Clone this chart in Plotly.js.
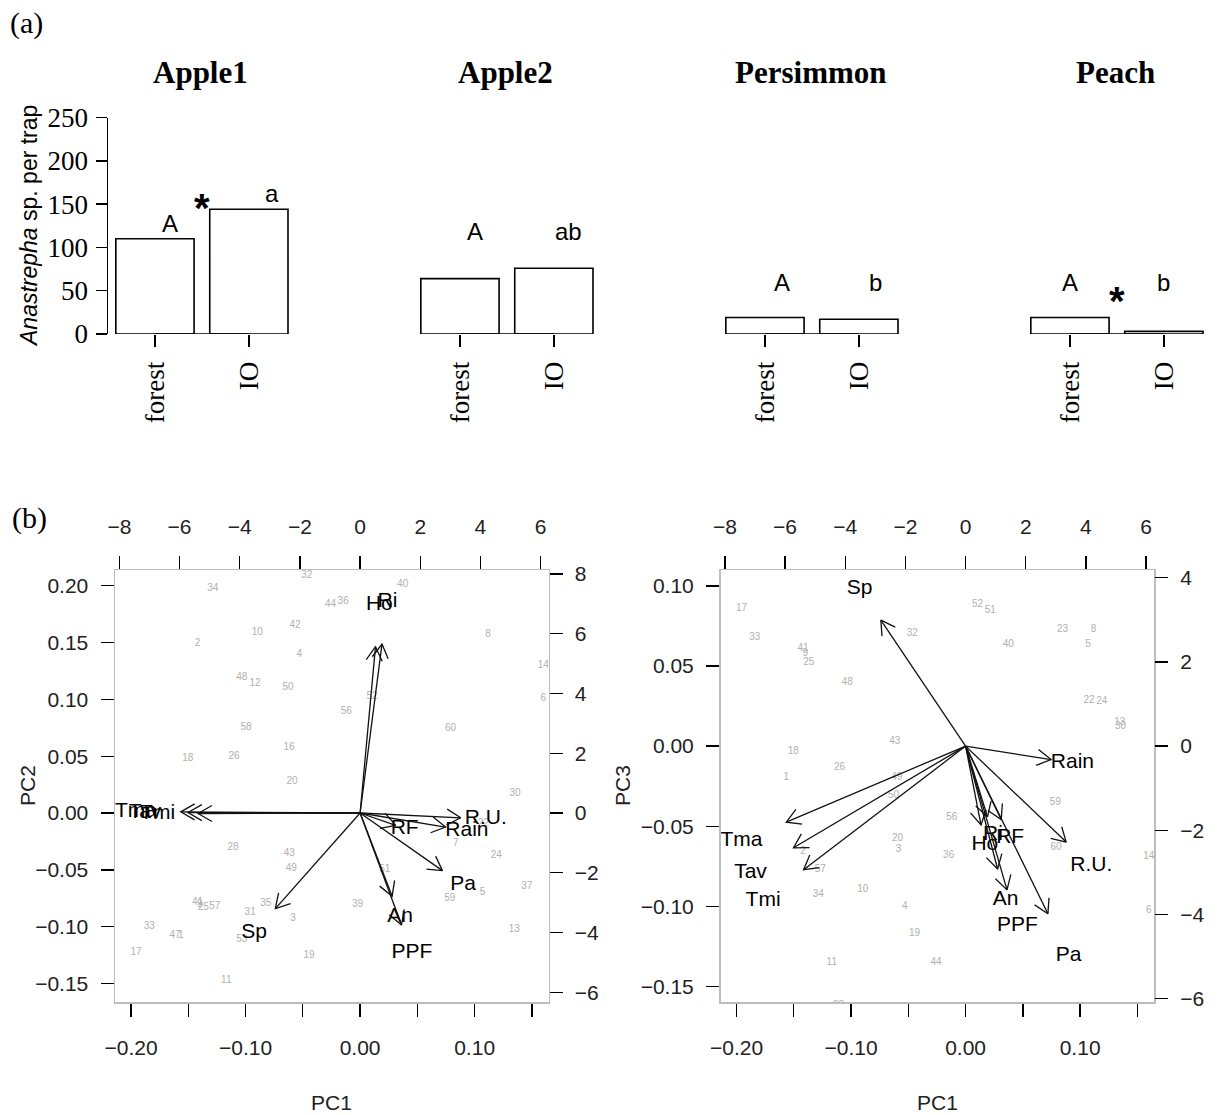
<!DOCTYPE html>
<html><head><meta charset="utf-8">
<script src="https://cdn.plot.ly/plotly-3.0.1.min.js"></script>
<style>html,body{margin:0;padding:0;background:#fff}#chart{width:1219px;height:1115px}</style>
</head><body><div id="chart"></div>
<script>
// ---------- (a) bar panels ----------
const crops = ["Apple1", "Apple2", "Persimmon", "Peach"];
const habitats = ["forest", "IO"];
const forestCounts = [110, 64, 19, 19];
const ioCounts = [144, 76, 17, 3];
const forestLetters = ["A", "A", "A", "A"];
const ioLetters = ["a", "ab", "b", "b"];
const significant = [true, false, false, true];
const countTicks = [0, 50, 100, 150, 200, 250];

// ---------- (b) PCA biplots ----------
const siteLabels = ["1","2","3","4","5","6","7","8","9","10","11","12","13","14","16","17","18","19","20","22","23","24","25","26","28","30","31","32","33","34","35","36","37","39","40","41","42","43","44","47","48","49","50","51","52","53","56","57","58","59","60"];
const sitePC1 = [-0.1566,-0.142,-0.0586,-0.053,0.107,0.160,0.0836,0.1118,-0.140,-0.0898,-0.1168,-0.0917,0.1347,0.1599,-0.062,-0.1956,-0.1505,-0.0445,-0.0594,0.1078,0.0846,0.119,-0.137,-0.110,-0.111,0.1352,-0.096,-0.0466,-0.184,-0.1287,-0.0824,-0.0148,0.1456,-0.0023,0.0373,-0.142,-0.0568,-0.0618,-0.0258,-0.1616,-0.1033,-0.060,-0.063,0.0215,0.0104,-0.1033,-0.012,-0.1268,-0.0996,0.0784,0.079];
const sitePC2 = [-0.108,0.149,-0.0926,0.1396,-0.070,0.101,-0.0267,0.1566,-0.0806,0.159,-0.1475,0.114,-0.102,0.1296,0.0574,-0.1225,0.048,-0.1255,0.0275,-0.009,null,-0.037,-0.083,0.050,-0.0302,0.0173,-0.0877,0.209,-0.100,0.197,-0.080,0.186,-0.0642,-0.0803,0.201,-0.0789,0.165,-0.036,0.183,-0.1073,0.119,-0.0487,0.1106,-0.0495,0.1023,-0.111,0.0891,-0.0824,0.0756,-0.075,0.0739];
const sitePC3 = [-0.0194,-0.066,-0.0648,-0.1004,0.0633,-0.1029,null,0.0729,0.0578,-0.0898,-0.1349,null,0.0146,-0.069,null,0.0856,-0.0032,-0.1169,-0.0579,0.0286,0.0729,0.0276,0.0522,-0.0132,-0.1616,0.012,null,0.0705,0.0678,-0.0923,null,-0.0685,null,null,0.0633,0.0607,null,0.0026,-0.1349,null,0.040,-0.0194,-0.0309,0.0847,0.0884,null,-0.0444,-0.0768,null,-0.0353,-0.0633];

const varLabels = ["Tma","Tav","Tmi","Rain","R.U.","Pa","PPF","An","Ho","Ri","RF","Sp"];
const loadPC1 = [-7.45,-7.15,-6.73,3.55,4.18,3.42,1.72,1.33,0.64,0.91,1.48,-3.52];
const loadPC2 = [0.05,0.02,-0.02,-0.59,-0.20,-2.41,-4.69,-3.48,6.96,7.07,-0.52,-4.00];
const loadPC3 = [-2.26,-3.02,-3.67,-0.40,-2.85,-4.98,-4.27,-3.65,-2.34,-2.10,-2.18,3.74];

const pc1Ticks = [-0.20,-0.15,-0.10,-0.05,0.00,0.05,0.10,0.15];
const pc1TickText = ["\u22120.20","","\u22120.10","","0.00","","0.10",""];
const pc2Ticks = [-0.15,-0.10,-0.05,0.00,0.05,0.10,0.15,0.20];
const pc3Ticks = [-0.15,-0.10,-0.05,0.00,0.05,0.10];
const loadXTicks = [-8,-6,-4,-2,0,2,4,6];
const loadY2Ticks = [-6,-4,-2,0,2,4,6,8];
const loadY3Ticks = [-6,-4,-2,0,2,4];

// ---------- geometry ----------
const W = 1219, H = 1115;
const fx = v => v / W, fy = v => 1 - v / H;
const serif = "Liberation Serif, 'Times New Roman', serif";
const sans = "Liberation Sans, Arial, sans-serif";

const boxL = [115, 548.5], boxR = [720.5, 1154], boxY = [570, 1002];
const pc1Range = [-0.214, 0.1645], pc2Range = [-0.1662, 0.2137], pc3Range = [-0.1597, 0.1099];
const ratio = 0.02627; // score units per loading unit
const ld = r => r.map(v => v / ratio);

const traces = [];
const annotations = [];
const shapes = [];
const layout = {
  width: W, height: H, margin: {l: 0, r: 0, t: 0, b: 0},
  paper_bgcolor: '#fff', plot_bgcolor: 'rgba(0,0,0,0)',
  showlegend: false, bargap: 0.1667, font: {family: sans, color: '#000'},
  annotations, shapes
};
function note(o) {
  annotations.push(Object.assign({showarrow: false, xanchor: 'center', yanchor: 'middle'}, o));
}

// ---------- bar panels ----------
const barY = [fy(334), fy(117.5)];
const letterOffF = [0.16, 0.16, 0.18, 0.0];
const letterOffI = [1.245, 1.16, 1.18, 1.0];
const letterYF = [128, 118, 59, 59];
const letterYI = [162, 118, 59, 59];
const starY = [145, null, null, 38];
crops.forEach((crop, i) => {
  const n = 5 + i;
  const xk = 'xaxis' + n, yk = 'yaxis' + n;
  const x0 = 108 + 305 * i, x1 = 293 + 305 * i;
  layout[xk] = {
    domain: [fx(x0), fx(x1)], anchor: 'y' + n, type: 'category', range: [-0.5, 1.47],
    showline: false, showgrid: false, zeroline: false, ticks: 'outside', ticklen: 12, tickwidth: 1.5,
    tickcolor: '#000', tickangle: -90, tickfont: {family: serif, size: 27, color: '#000'},
    ticklabelstandoff: 4, fixedrange: true
  };
  layout[yk] = {
    domain: barY, anchor: 'x' + n, range: [0, 250], fixedrange: true,
    showgrid: false, zeroline: false, visible: i === 0,
    showline: true, linecolor: '#000', linewidth: 1.5, ticks: 'outside', ticklen: 11, tickwidth: 1.5,
    tickcolor: '#000', tickvals: countTicks, tickfont: {family: serif, size: 27, color: '#000'},
    ticklabelstandoff: 2
  };
  traces.push({
    type: 'bar', x: habitats, y: [forestCounts[i], ioCounts[i]], xaxis: 'x' + n, yaxis: 'y' + n,
    marker: {color: '#fff', line: {color: '#000', width: 1.6}}, hoverinfo: 'skip'
  });
  shapes.push({type: 'line', xref: 'x' + n, yref: 'y' + n, x0: 0, x1: 1, y0: 0, y1: 0,
    line: {color: '#000', width: 1.5}});
  note({xref: 'paper', yref: 'paper', x: fx((x0 + x1) / 2), y: fy(72), text: '<b>' + crop + '</b>',
    font: {family: serif, size: 31, color: '#000'}});
  note({xref: 'x' + n, yref: 'y' + n, x: letterOffF[i], y: letterYF[i], text: forestLetters[i],
    font: {family: sans, size: 24, color: '#000'}});
  note({xref: 'x' + n, yref: 'y' + n, x: letterOffI[i], y: letterYI[i], text: ioLetters[i],
    font: {family: sans, size: 24, color: '#000'}});
  if (significant[i]) {
    note({xref: 'x' + n, yref: 'y' + n, x: 0.5, y: starY[i], text: '<b>*</b>',
      font: {family: sans, size: 40, color: '#000'}});
  }
});
note({xref: 'paper', yref: 'paper', x: fx(8), xanchor: 'left', y: fy(23), text: '(a)',
  font: {family: serif, size: 30, color: '#000'}});
note({xref: 'paper', yref: 'paper', x: fx(10), xanchor: 'left', y: fy(518), text: '(b)',
  font: {family: serif, size: 30, color: '#000'}});
note({xref: 'paper', yref: 'paper', x: fx(29), y: fy(226), text: '<i>Anastrepha</i> sp. per trap',
  textangle: -90, font: {family: sans, size: 23, color: '#000'}});

// ---------- biplots ----------
function baseAxis(extra) {
  return Object.assign({
    showgrid: false, zeroline: false, ticks: 'outside', ticklen: 13, tickwidth: 1.3, tickcolor: '#000',
    tickfont: {family: sans, size: 21, color: '#222'}, fixedrange: true
  }, extra);
}

function arrowPath(lx, ly, sx, sy) {
  const X = [], Y = [];
  const L = 16, ang = Math.PI / 6;
  for (let i = 0; i < lx.length; i++) {
    const tx = 0.8 * lx[i], ty = 0.8 * ly[i];
    X.push(0, tx, null); Y.push(0, ty, null);
    const px = tx * sx, py = ty * sy, len = Math.hypot(px, py);
    const bx = -px / len, by = -py / len;
    const h = [1, -1].map(s => {
      const c = Math.cos(s * ang), sn = Math.sin(s * ang);
      return [tx + L * (bx * c - by * sn) / sx, ty + L * (bx * sn + by * c) / sy];
    });
    X.push(h[0][0], tx, h[1][0], null); Y.push(h[0][1], ty, h[1][1], null);
  }
  return {X, Y};
}

function biplot(idx, box, yScores, yRange, yTicks, yLoad, yLoadTicks, yTitle, yTitleX) {
  const a = 1 + 2 * idx, b = 2 + 2 * idx;
  const xr = pc1Range, xr2 = ld(pc1Range), yr2 = ld(yRange);
  const dom = [fx(box[0]), fx(box[1])], ydom = [fy(boxY[1]), fy(boxY[0])];
  const sfx = a === 1 ? '' : a;
  layout['xaxis' + sfx] = baseAxis({domain: dom, anchor: 'y' + sfx, range: xr, tickvals: pc1Ticks, ticktext: pc1TickText,
    showline: true, linecolor: '#bdbdbd', linewidth: 1.5, mirror: true, ticklabelstandoff: 13});
  layout['yaxis' + sfx] = baseAxis({domain: ydom, anchor: 'x' + sfx, range: yRange, tickvals: yTicks, tickformat: '.2f',
    showline: true, linecolor: '#bdbdbd', linewidth: 1.5, mirror: true, ticklabelstandoff: 8});
  layout['xaxis' + b] = baseAxis({overlaying: 'x' + sfx, side: 'top', anchor: 'y' + sfx, range: xr2, tickvals: loadXTicks,
    showline: false, ticklabelstandoff: 14});
  layout['yaxis' + b] = baseAxis({overlaying: 'y' + sfx, side: 'right', anchor: 'x' + sfx, range: yr2, tickvals: yLoadTicks,
    showline: false, ticklabelstandoff: 8});
  traces.push({type: 'scatter', mode: 'text', x: sitePC1, y: yScores, text: siteLabels, xaxis: 'x' + sfx, yaxis: 'y' + sfx,
    textfont: {family: sans, size: 10, color: '#b0b0b0'}, cliponaxis: true, hoverinfo: 'skip'});
  traces.push({type: 'scatter', mode: 'text', x: loadPC1, y: yLoad, text: varLabels, xaxis: 'x' + b, yaxis: 'y' + b,
    textfont: {family: sans, size: 21, color: '#000'}, cliponaxis: false, hoverinfo: 'skip'});
  const sx = (box[1] - box[0]) / (xr2[1] - xr2[0]);
  const sy = (boxY[1] - boxY[0]) / (yr2[1] - yr2[0]);
  const p = arrowPath(loadPC1, yLoad, sx, sy);
  traces.push({type: 'scatter', mode: 'lines', x: p.X, y: p.Y, xaxis: 'x' + b, yaxis: 'y' + b,
    line: {color: '#111', width: 1.3}, connectgaps: false, cliponaxis: false, hoverinfo: 'skip'});
  note({xref: 'paper', yref: 'paper', x: fx((box[0] + box[1]) / 2), y: fy(1102), text: 'PC1',
    font: {family: sans, size: 21, color: '#222'}});
  note({xref: 'paper', yref: 'paper', x: fx(yTitleX), y: fy((boxY[0] + boxY[1]) / 2), text: yTitle,
    textangle: -90, font: {family: sans, size: 21, color: '#222'}});
}
biplot(0, boxL, sitePC2, pc2Range, pc2Ticks, loadPC2, loadY2Ticks, 'PC2', 27);
biplot(1, boxR, sitePC3, pc3Range, pc3Ticks, loadPC3, loadY3Ticks, 'PC3', 622);

Plotly.newPlot('chart', traces, layout, {staticPlot: true, displayModeBar: false});
</script></body></html>
